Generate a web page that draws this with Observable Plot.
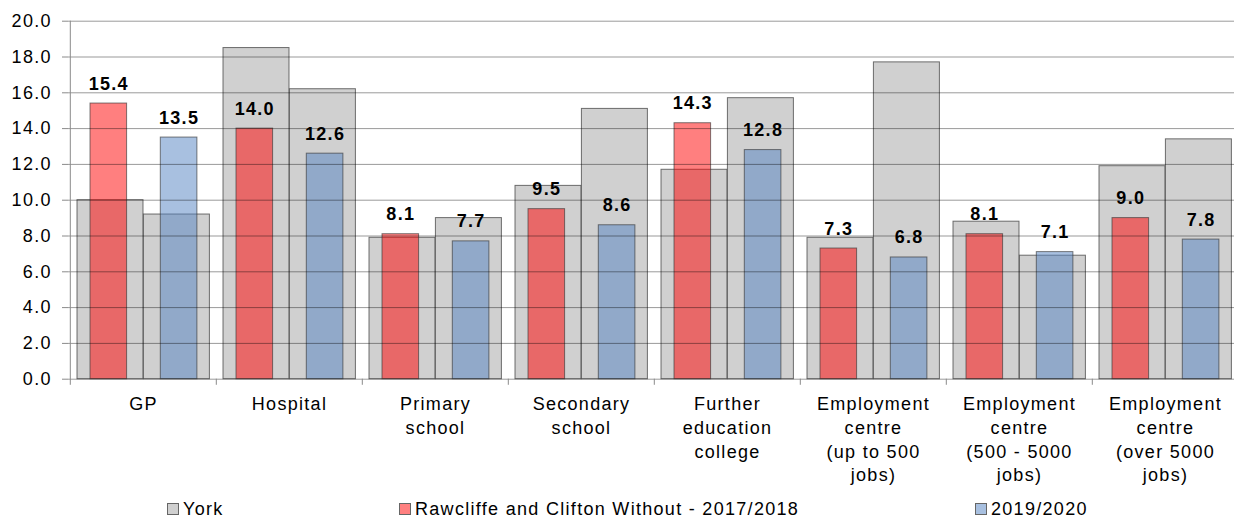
<!DOCTYPE html>
<html>
<head>
<meta charset="utf-8">
<script src="https://cdn.jsdelivr.net/npm/d3@7"></script>
<script src="https://cdn.jsdelivr.net/npm/@observablehq/plot@0.6"></script>
<style>
  html, body { margin: 0; padding: 0; background: #fff; overflow: hidden; }
  #wrap { position: relative; width: 1234px; height: 520px; font-family: "Liberation Sans", Arial, sans-serif; }
  #legend { position: absolute; left: 0; top: 499px; width: 1234px; height: 21px; font-size: 18px; letter-spacing: 1.3px; color: #000; }
  .item { position: absolute; top: 0; line-height: 21px; white-space: nowrap; }
  .sw { display: inline-block; width: 10px; height: 10px; border: 1px solid #666; margin-right: 4px; vertical-align: -0px; box-sizing: content-box; }
</style>
</head>
<body>
<div id="wrap"><div id="chart"></div><div id="legend"></div></div>
<script>
const categories = ["GP", "Hospital", "Primary school", "Secondary school", "Further education college",
  "Employment centre (up to 500 jobs)", "Employment centre (500 - 5000 jobs)", "Employment centre (over 5000 jobs)"];
const categoryLabels = ["GP", "Hospital", "Primary\nschool", "Secondary\nschool", "Further\neducation\ncollege",
  "Employment\ncentre\n(up to 500\njobs)", "Employment\ncentre\n(500 - 5000\njobs)", "Employment\ncentre\n(over 5000\njobs)"];
const york1718 = [10.0, 18.5, 7.9, 10.8, 11.7, 7.9, 8.8, 11.9];
const york1920 = [9.2, 16.2, 9.0, 15.1, 15.7, 17.7, 6.9, 13.4];
const local1718 = [15.4, 14.0, 8.1, 9.5, 14.3, 7.3, 8.1, 9.0];
const local1920 = [13.5, 12.6, 7.7, 8.6, 12.8, 6.8, 7.1, 7.8];
const yTicks = [0, 2, 4, 6, 8, 10, 12, 14, 16, 18, 20];
const seriesNames = ["York", "Rawcliffe and Clifton Without - 2017/2018", "2019/2020"];

const rows = categories.map((c, i) => ({
  category: c, label: categoryLabels[i],
  york1718: york1718[i], york1920: york1920[i], local1718: local1718[i], local1920: local1920[i]
}));

const fmt = d3.format(".1f");
const half = 146.4 / 2;
const grayFill = "#d0d0d0";
const barStroke = "#383838";

const chart = Plot.plot({
  width: 1234,
  height: 497,
  marginLeft: 68,
  marginRight: 0,
  marginTop: 20.7,
  marginBottom: 118.3,
  style: { fontFamily: "'Liberation Sans', Arial, sans-serif", fontSize: "18px", letterSpacing: "1.3px", color: "#000", background: "#fff" },
  x: { domain: categories, range: [68, 1239.2], padding: 0, axis: null },
  y: { domain: [0, 20], axis: null },
  marks: [
    Plot.barY(rows, { x: "category", y: "york1718", fill: grayFill, stroke: barStroke, strokeOpacity: 0.7, insetLeft: 7, insetRight: 73 }),
    Plot.barY(rows, { x: "category", y: "york1920", fill: grayFill, stroke: barStroke, strokeOpacity: 0.7, insetLeft: 73.4, insetRight: 6.6 }),
    Plot.barY(rows, { x: "category", y: "local1718", fill: "#ff0000", fillOpacity: 0.5, stroke: barStroke, strokeOpacity: 0.65, insetLeft: 20, insetRight: 89.4 }),
    Plot.barY(rows, { x: "category", y: "local1920", fill: "#5181c1", fillOpacity: 0.5, stroke: barStroke, strokeOpacity: 0.65, insetLeft: 90.3, insetRight: 19.1 }),
    Plot.gridY(yTicks, { stroke: "#000", strokeOpacity: 0.4 }),
    Plot.ruleX(rows, { x: "category", y1: -0.34, y2: (d, i) => i === 0 ? 20 : 0, dx: -half, stroke: "#8a8a8a" }),
    Plot.axisY(yTicks, { tickFormat: fmt, tickSize: 6, tickPadding: 10.7, stroke: "#8a8a8a", fill: "#000" }),
    Plot.text(rows, { x: "category", y: "local1718", text: d => fmt(d.local1718), dx: -34.7, dy: -14, lineAnchor: "bottom", fontWeight: "bold", fill: "#000" }),
    Plot.text(rows, { x: "category", y: "local1920", text: d => fmt(d.local1920), dx: 35.6, dy: -14, lineAnchor: "bottom", fontWeight: "bold", fill: "#000" }),
    Plot.text(rows, { x: "category", text: "label", frameAnchor: "bottom", lineAnchor: "top", dy: 14, lineHeight: 1.32, fill: "#000" })
  ]
});
document.getElementById("chart").appendChild(chart);

const legendItems = [
  { name: seriesNames[0], color: grayFill, left: 167 },
  { name: seriesNames[1], color: "#ff8080", left: 399 },
  { name: seriesNames[2], color: "#a8c0e0", left: 975 }
];
const legend = document.getElementById("legend");
for (const it of legendItems) {
  const el = document.createElement("div");
  el.className = "item";
  el.style.left = it.left + "px";
  const sw = document.createElement("span");
  sw.className = "sw";
  sw.style.background = it.color;
  el.appendChild(sw);
  el.appendChild(document.createTextNode(it.name));
  legend.appendChild(el);
}
</script>
</body>
</html>
